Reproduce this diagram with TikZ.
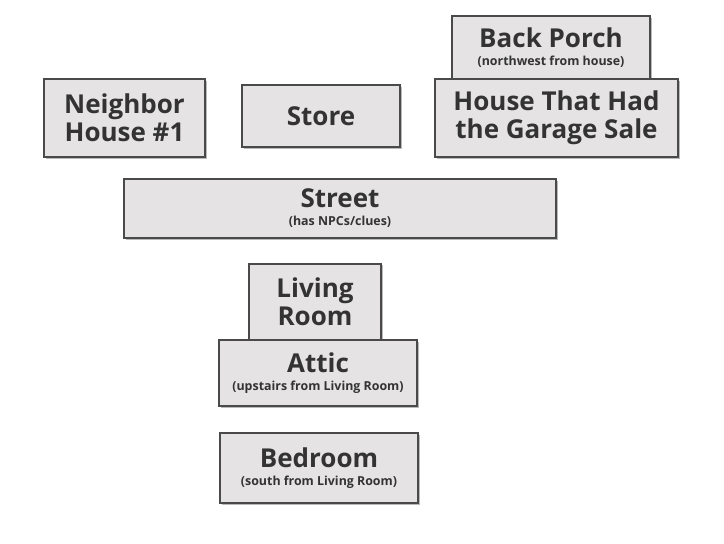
\documentclass[tikz,border=0pt]{standalone}
\usepackage{fontspec}
\setmainfont{Open Sans}
\usetikzlibrary{shadows}
\definecolor{RoomFill}{HTML}{E5E3E4}
\definecolor{RoomEdge}{HTML}{4A4A4A}
\definecolor{RoomText}{HTML}{333333}
\newcommand{\bigname}{\fontsize{19.5}{21}\selectfont\bfseries}
\newcommand{\subname}{\fontsize{9.3}{10}\selectfont\bfseries}
\tikzset{
  room/.style={draw=RoomEdge, line width=1.5pt, fill=RoomFill, text=RoomText, align=center, inner sep=0pt,
    font=\bigname,
    drop shadow={shadow xshift=1.4pt, shadow yshift=-1.4pt, fill=black!45, opacity=.6}}
}
\begin{document}
\begin{tikzpicture}[x=0.75pt,y=-0.75pt]
\useasboundingbox[fill=white] (0,0) rectangle (724,543);
% top row
\node[room, minimum width=198*0.75pt, minimum height=64*0.75pt] (porch) at (551,48)
  {Back Porch\\[-7.5pt]\subname (northwest from house)};
\node[room, minimum width=243*0.75pt, minimum height=78*0.75pt] (house) at (556.5,118)
  {House That Had\\the Garage Sale};
\node[room, minimum width=161*0.75pt, minimum height=78*0.75pt] (neighbor) at (124.5,118)
  {Neighbor\\House \#1};
\node[room, minimum width=158*0.75pt, minimum height=62*0.75pt] (store) at (321,116)
  {Store};
% street
\node[room, minimum width=432*0.75pt, minimum height=59*0.75pt] (street) at (340,208.5)
  {Street\\[-7.5pt]\subname (has NPCs/clues)};
% inside the house
\node[room, minimum width=132*0.75pt, minimum height=77*0.75pt] (living) at (315,302)
  {Living\\Room};
\node[room, minimum width=198*0.75pt, minimum height=66*0.75pt] (attic) at (318,373)
  {Attic\\[-7.5pt]\subname (upstairs from Living Room)};
\node[room, minimum width=198*0.75pt, minimum height=70*0.75pt] (bedroom) at (319,468)
  {Bedroom\\[-7.5pt]\subname (south from Living Room)};
\end{tikzpicture}
\end{document}
